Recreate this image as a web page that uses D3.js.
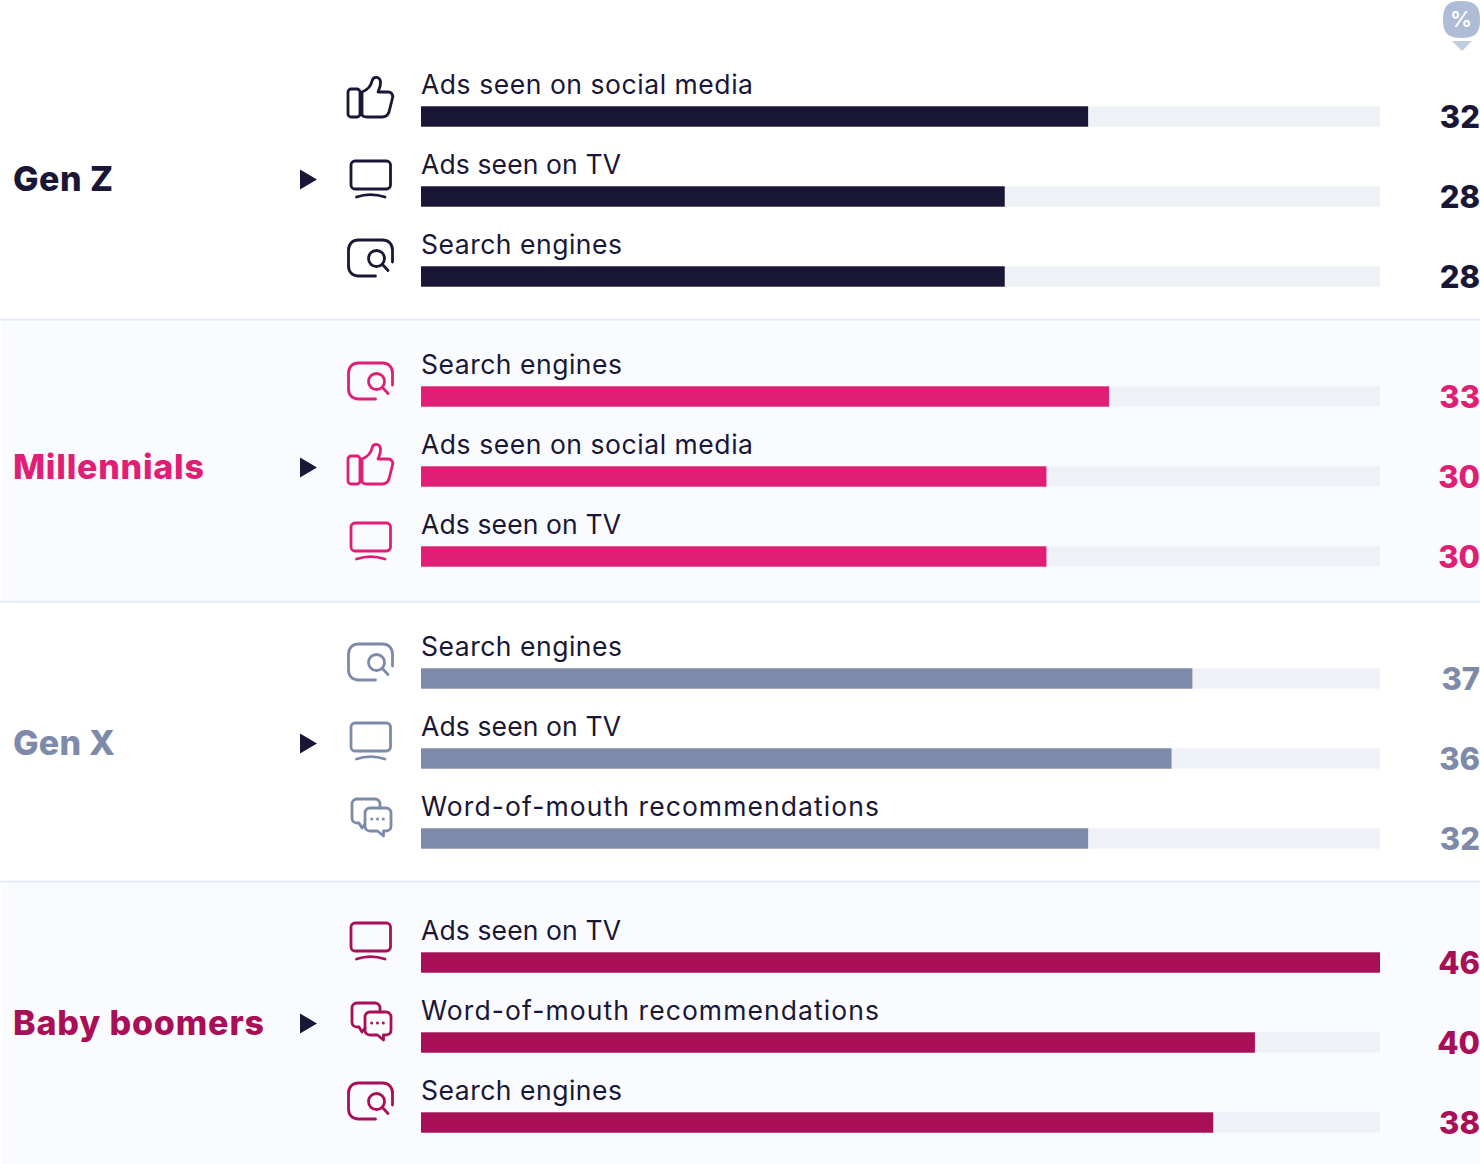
<!DOCTYPE html>
<html><head><meta charset="utf-8">
<script src="https://cdn.jsdelivr.net/npm/d3@7"></script>
<style>html,body{margin:0;padding:0;background:#fff}svg{display:block}text{font-family:Inter,"Noto Sans",sans-serif}</style>
</head><body><div id="c"></div>
<script>
const groups = ["Gen Z","Millennials","Gen X","Baby boomers"];
const groupColors = ["#1a1636","#e01e75","#7d8aa9","#a80f57"];
const genZLabels = ["Ads seen on social media","Ads seen on TV","Search engines"];
const genZValues = [32,28,28];
const millennialLabels = ["Search engines","Ads seen on social media","Ads seen on TV"];
const millennialValues = [33,30,30];
const genXLabels = ["Search engines","Ads seen on TV","Word-of-mouth recommendations"];
const genXValues = [37,36,32];
const boomerLabels = ["Ads seen on TV","Word-of-mouth recommendations","Search engines"];
const boomerValues = [46,40,38];

const W=1480,H=1164;
// layout
const sectionTops=[0,319,601,881,1164];
const firstBar=[106.3,386.3,668.3,952.3];
const labelBase=[190.5,478.5,754.5,1034.5];
const arrowY=[179.5,467.5,743.5,1023.5];
const iconDy=[[-9,-6,-8],[-5,-2,-4],[-6,-6,-10],[-10,-10,-11]];
const barH=20.4, rowStep=80;
const labelLen={"Ads seen on social media":332,"Ads seen on TV":200,"Search engines":201,"Word-of-mouth recommendations":458};
const groupLen={"Gen Z":100,"Millennials":191,"Gen X":102,"Baby boomers":251};
const allLabels=[genZLabels,millennialLabels,genXLabels,boomerLabels];
const allValues=[genZValues,millennialValues,genXValues,boomerValues];

const x=d3.scaleLinear().domain([0,46]).range([421,1380]);
const rowY=d3.scaleLinear().domain([0,1]).range([0,rowStep]);

const svg=d3.select("#c").append("svg").attr("width",W).attr("height",H).attr("viewBox",`0 0 ${W} ${H}`);

// section backgrounds
[1,3].forEach(i=>svg.append("rect").attr("x",1).attr("y",sectionTops[i]).attr("width",W-1)
  .attr("height",sectionTops[i+1]-sectionTops[i]).attr("fill","#f9fbff"));
[1,2,3].forEach(i=>svg.append("line").attr("x1",0).attr("x2",W).attr("y1",sectionTops[i]+.7).attr("y2",sectionTops[i]+.7)
  .attr("stroke","#e4e9f6").attr("stroke-width",1.8));

// icons, centred on 0,0
const icons={
 thumb:g=>{
  g.append("rect").attr("x",-22).attr("y",-8).attr("width",12).attr("height",28).attr("rx",3);
  g.append("path").attr("d","M-8 -5 C-3 -7 1 -11 2 -16 C3 -21 10 -21 10.5 -15 C11 -11 9 -8 8 -5 L18 -5 C21.5 -5 23.5 -2 22.5 1 L19 15 C18 18 16 20 12 20 L-3 20 C-6 20 -8 19 -8 17 Z");
 },
 tv:g=>{
  g.append("rect").attr("x",-20).attr("y",-19).attr("width",39.5).attr("height",28).attr("rx",4);
  g.append("path").attr("d","M-14.5 17 C-6 14 5 14 14 17");
 },
 search:g=>{
  g.append("path").attr("d","M22 4 L22 -8 C22 -14 18 -18 12 -18 L-12 -18 C-18 -18 -22 -14 -22 -8 L-22 8 C-22 14 -18 18 -12 18 L5 18");
  g.append("circle").attr("cx",6).attr("cy",0.5).attr("r",8);
  g.append("path").attr("d","M12 6.5 L17.5 12.5");
 },
 chat:g=>{
  g.append("path").attr("d","M9 -10 L9 -14 C9 -17 7 -19 4 -19 L-14 -19 C-17 -19 -19 -17 -19 -14 L-19 0 C-19 3 -17 5 -14 5 L-12 5 L-9 10 L-6 6");
  g.append("path").attr("d","M-1 -10 L15 -10 C18 -10 20 -8 20 -5 L20 8 C20 11 18 13 15 13 L12.5 13 L12.5 18 L6.5 13 L-1 13 C-4 13 -6 11 -6 8 L-6 -5 C-6 -8 -4 -10 -1 -10 Z");
  [0.7,6.5,12.3].forEach(d=>g.append("circle").attr("cx",d).attr("cy",1).attr("r",1.5).attr("fill","currentColor").attr("stroke","none"));
 }
};
const iconFor=l=>l.startsWith("Ads seen on social")?"thumb":l.startsWith("Ads seen on TV")?"tv":l.startsWith("Search")?"search":"chat";
const iconX={thumb:370,tv:371,search:370.5,chat:371};

groups.forEach((name,gi)=>{
  const color=groupColors[gi];
  const g=svg.append("g");
  g.append("text").attr("x",13).attr("y",labelBase[gi]).attr("fill",color)
    .attr("font-size",34).attr("font-weight",800).attr("textLength",groupLen[name]).attr("lengthAdjust","spacing").text(name);
  g.append("path").attr("d",`M300 ${arrowY[gi]-10} L317 ${arrowY[gi]} L300 ${arrowY[gi]+10} Z`).attr("fill","#1a1636");
  const rows=allLabels[gi].map((l,i)=>({l,v:allValues[gi][i],i}));
  const row=g.selectAll("g.row").data(rows).join("g").attr("class","row")
    .attr("transform",d=>`translate(0,${firstBar[gi]+rowY(d.i)})`);
  row.append("rect").attr("x",x(0)).attr("y",0).attr("width",x(46)-x(0)).attr("height",barH).attr("fill","#eef1f6");
  row.append("rect").attr("x",x(0)).attr("y",0).attr("width",d=>x(d.v)-x(0)).attr("height",barH).attr("fill",color);
  row.append("text").attr("x",421).attr("y",-12.5).attr("font-size",26.5).attr("fill","#1a1636")
    .attr("textLength",d=>labelLen[d.l]).attr("lengthAdjust","spacing").text(d=>d.l);
  row.append("text").attr("x",1480).attr("y",21.5).attr("text-anchor","end").attr("font-size",31).attr("font-weight",800).attr("fill",color).text(d=>d.v);
  row.each(function(d){
    const k=iconFor(d.l);
    const ig=d3.select(this).append("g").attr("transform",`translate(${iconX[k]},${iconDy[gi][d.i]-.3})`)
      .attr("fill","none").attr("stroke",color).attr("color",color).attr("stroke-width",2.8)
      .attr("stroke-linecap","round").attr("stroke-linejoin","round");
    icons[k](ig);
  });
});

// percent badge
svg.append("path").attr("d","M1461 1 C1475 1 1480 6 1480 20 C1480 33 1475 38 1461 38 C1448 38 1443 33 1443 20 C1443 6 1448 1 1461 1 Z").attr("fill","#aebcd6");
svg.append("path").attr("d","M1452 41 L1472 41 L1462 51 Z").attr("fill","#c0cce0");
svg.append("text").attr("x",1461).attr("y",27).attr("text-anchor","middle").attr("font-size",22).attr("font-weight",600).attr("fill","#fff").text("%");
</script></body></html>
